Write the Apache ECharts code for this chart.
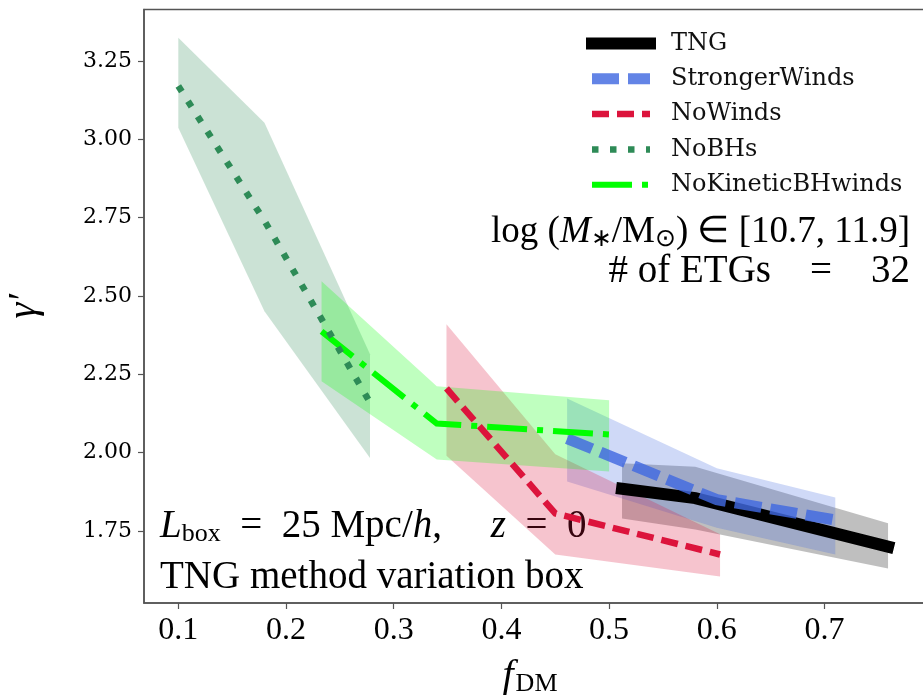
<!DOCTYPE html>
<html><head><meta charset="utf-8">
<script src="https://cdn.jsdelivr.net/npm/echarts@6/dist/echarts.min.js"></script>
<style>html,body{margin:0;padding:0;background:#fff}#c{width:923px;height:695px}</style>
</head><body><div id="c"></div>
<script>
// ---- data ----
const xTicks = [0.1, 0.2, 0.3, 0.4, 0.5, 0.6, 0.7];
const yTicks = [1.75, 2.00, 2.25, 2.50, 2.75, 3.00, 3.25];

const tngX  = [0.512, 0.58, 0.759];
const tngY  = [1.885, 1.855, 1.70];
const tngLo = [1.79, 1.755, 1.63];
const tngHi = [1.966, 1.955, 1.775];

const swX  = [0.461, 0.60, 0.71];
const swY  = [2.045, 1.85, 1.785];
const swLo = [1.908, 1.76, 1.675];
const swHi = [2.173, 1.95, 1.857];

const nwX  = [0.349, 0.45, 0.603];
const nwY  = [2.205, 1.806, 1.675];
const nwLo = [1.99, 1.675, 1.605];
const nwHi = [2.41, 1.995, 1.74];

const nbX  = [0.1, 0.18, 0.278];
const nbY  = [3.17, 2.74, 2.16];
const nbLo = [3.037, 2.451, 1.983];
const nbHi = [3.324, 3.053, 2.314];

const nkX  = [0.233, 0.34, 0.5];
const nkY  = [2.387, 2.093, 2.058];
const nkLo = [2.228, 1.978, 1.94];
const nkHi = [2.547, 2.212, 2.167];

// ---- helpers ----
function band(xs, lo, hi, color) {
  return {
    type: 'custom', silent: true, z: 1, clip: false,
    data: xs.map((x, i) => [x, lo[i], hi[i]]),
    encode: { x: 0, y: [1, 2] },
    renderItem: function (params, api) {
      if (params.dataIndex !== 0) return null;
      const pts = [];
      for (let i = 0; i < xs.length; i++) pts.push(api.coord([xs[i], hi[i]]));
      for (let i = xs.length - 1; i >= 0; i--) pts.push(api.coord([xs[i], lo[i]]));
      return { type: 'polygon', shape: { points: pts }, style: { fill: color } };
    }
  };
}
function line(name, xs, ys, color, width, dash, cap, z) {
  return { type: 'line', name: name, data: xs.map((x, i) => [x, ys[i]]), symbol: 'none',
    silent: true, z: z,
    lineStyle: { color: color, width: width, type: dash, cap: cap, join: 'miter' } };
}

const series = [
  band(tngX, tngLo, tngHi, 'rgba(0,0,0,0.25)'),
  band(swX, swLo, swHi, 'rgba(65,105,225,0.25)'),
  band(nwX, nwLo, nwHi, 'rgba(220,20,60,0.25)'),
  band(nbX, nbLo, nbHi, 'rgba(46,139,87,0.25)'),
  band(nkX, nkLo, nkHi, 'rgba(0,255,0,0.25)'),
  line('TNG', tngX, tngY, '#000000', 12, 'solid', 'square', 3),
  line('StrongerWinds', swX, swY, 'rgba(65,105,225,0.82)', 11, [27, 9], 'butt', 4),
  line('NoWinds', nwX, nwY, '#dc143c', 6.5, [17, 8], 'butt', 5),
  line('NoKineticBHwinds', nkX, nkY, '#00ff00', 6, [40, 10, 6, 10], 'butt', 6),
  line('NoBHs', nbX, nbY, '#2e8b57', 6.5, [6.5, 11.5], 'butt', 7)
];

const chart = echarts.init(document.getElementById('c'), null, { renderer: 'canvas' });
chart.setOption({
  animation: false,
  backgroundColor: '#fff',
  grid: { left: 144, right: -2, top: 9.5, bottom: 92, show: true, borderColor: '#555',
          borderWidth: 1.5, containLabel: false, outerBoundsMode: 'none' },
  xAxis: {
    type: 'value', min: 0.06815, max: 0.7933,
    axisLine: { show: true, lineStyle: { color: '#555', width: 1.5 } },
    axisTick: { show: true, customValues: xTicks, length: 6, lineStyle: { color: '#555', width: 1.2 } },
    axisLabel: { customValues: xTicks, formatter: v => v.toFixed(1), margin: 12,
      fontFamily: 'Liberation Serif', fontSize: 32, color: '#000' },
    splitLine: { show: false }
  },
  yAxis: {
    type: 'value', min: 1.5202, max: 3.4144,
    name: 'γ′', nameLocation: 'middle', nameRotate: 90, nameGap: 100,
    nameTextStyle: { fontFamily: 'Liberation Serif', fontStyle: 'italic', fontSize: 40, color: '#000' },
    axisLine: { show: true, lineStyle: { color: '#555', width: 1.5 } },
    axisTick: { show: true, customValues: yTicks, length: 6, lineStyle: { color: '#555', width: 1.2 } },
    axisLabel: { customValues: yTicks, formatter: v => v.toFixed(2), margin: 12,
      fontFamily: 'DejaVu Serif', fontSize: 22, color: '#000' },
    splitLine: { show: false }
  },
  legend: {
    data: ['TNG', 'StrongerWinds', 'NoWinds', 'NoBHs', 'NoKineticBHwinds'],
    orient: 'vertical', left: 581, top: 26.5, padding: 5,
    itemWidth: 58, itemHeight: 14, itemGap: 11.3, selectedMode: false,
    textStyle: { fontFamily: 'DejaVu Serif', fontSize: 24, color: '#111', padding: [0, 0, 0, 16] },
    itemStyle: { opacity: 0 },
    lineStyle: { width: 'inherit', type: 'inherit', cap: 'inherit', opacity: 1 }
  },
  graphic: [
    { type: 'text', x: 530, y: 676, silent: true,
      style: { text: '{i|f}{s|DM}', align: 'center', verticalAlign: 'middle', fill: '#000',
        rich: { i: { font: 'italic 40px "Liberation Serif"' },
                s: { font: '26px "Liberation Serif"', padding: [16, 0, 0, 2] } } } },
    { type: 'text', x: 910, y: 232, silent: true,
      style: { text: '{n|log (}{i|M}{s|∗}{n|/M}{s|⊙}{n|) ∈ [10.7, 11.9]}', align: 'right',
        verticalAlign: 'middle', fill: '#000',
        rich: { n: { font: '37px "Liberation Serif"' }, i: { font: 'italic 37px "Liberation Serif"' },
                s: { font: '25px "Liberation Serif"', padding: [14, 0, 0, 0] } } } },
    { type: 'text', x: 910, y: 272, silent: true,
      style: { text: '# of ETGs\u2003=\u200332', align: 'right', verticalAlign: 'middle', fill: '#000',
               font: '39px "Liberation Serif"' } },
    { type: 'text', x: 160, y: 527, silent: true,
      style: { text: '{i|L}{s|box}{n|\u2002=\u200225 Mpc/}{i|h}{n|,\u2003 }{i|z}{n|\u2002=\u20020}', align: 'left',
        verticalAlign: 'middle', fill: '#000',
        rich: { n: { font: '39px "Liberation Serif"' }, i: { font: 'italic 39px "Liberation Serif"' },
                s: { font: '26px "Liberation Serif"', padding: [14, 0, 0, 0] } } } },
    { type: 'text', x: 160, y: 578, silent: true,
      style: { text: 'TNG method variation box', align: 'left', verticalAlign: 'middle', fill: '#000',
               font: '39px "Liberation Serif"' } }
  ],
  series: series
});
</script>
</body></html>
